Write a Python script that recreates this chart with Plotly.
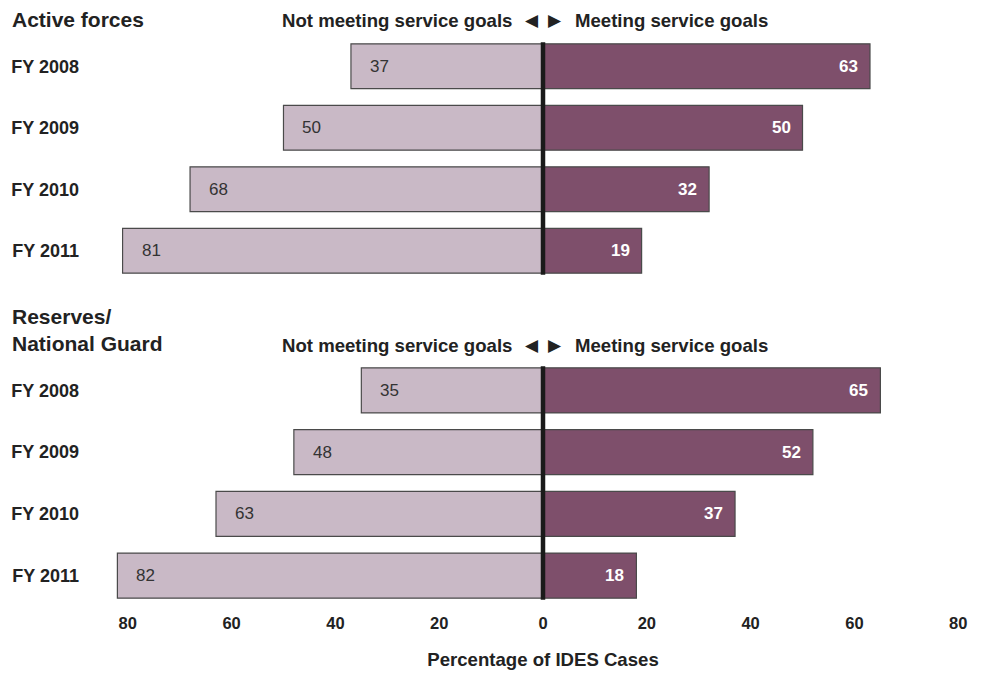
import plotly.graph_objects as go

years = ["FY 2008", "FY 2009", "FY 2010", "FY 2011"]
active_not = [37, 50, 68, 81]
active_meet = [63, 50, 32, 19]
reserve_not = [35, 48, 63, 82]
reserve_meet = [65, 52, 37, 18]
panel_titles = ["<b>Active forces</b>", "<b>Reserves/<br>National Guard</b>"]
tick_vals = [-80, -60, -40, -20, 0, 20, 40, 60, 80]
tick_text = ["80", "60", "40", "20", "0", "20", "40", "60", "80"]

LIGHT = "#c9b9c6"
DARK = "#7e4f6b"
EDGE = "#4a4a4a"
TXT = "#222222"
FONT = "Liberation Sans, Arial, sans-serif"

W, H = 982, 673
OFF = 8  # page body margin offset

def ypaper(px):
    return 1 - (px - OFF) / H

fig = go.Figure()

yaxes_names = ["y", "y2"]
for i, (nm, mt) in enumerate([(active_not, active_meet), (reserve_not, reserve_meet)]):
    ya = yaxes_names[i]
    fig.add_trace(go.Bar(y=years, x=[-v for v in nm], orientation="h",
                         marker=dict(color=LIGHT, line=dict(color=EDGE, width=1.2)),
                         yaxis=ya, xaxis="x", showlegend=False, hoverinfo="skip"))
    fig.add_trace(go.Bar(y=years, x=mt, orientation="h",
                         marker=dict(color=DARK, line=dict(color=EDGE, width=1.2)),
                         yaxis=ya, xaxis="x", showlegend=False, hoverinfo="skip"))
    for yr, v in zip(years, nm):
        fig.add_annotation(x=-v, y=yr, xref="x", yref=ya, text=str(v), showarrow=False,
                           xanchor="left", xshift=17,
                           font=dict(family=FONT, size=17, color="#333333"))
    for yr, v in zip(years, mt):
        fig.add_annotation(x=v, y=yr, xref="x", yref=ya, text="<b>%d</b>" % v, showarrow=False,
                           xanchor="right", xshift=-10,
                           font=dict(family=FONT, size=17, color="white"))
    fig.add_shape(type="line", xref="x", yref=ya, x0=0, x1=0, y0=-0.39, y1=3.39,
                  line=dict(color="#1a1a1a", width=4.5))

top_dom = [ypaper(281.5), ypaper(35.5)]
bot_dom = [ypaper(606.5), ypaper(359.5)]

# x scale: 0 at 543 px, 80 at 958 px -> 5.1875 px/unit; range +-84
XR = 84
ppu = 415 / 80
left_px = 543 - XR * ppu - OFF
right_px = 543 + XR * ppu - OFF
plot_w = right_px - left_px

def xpaper(px):
    return (px - OFF - left_px) / plot_w

yax_common = dict(type="category", categoryorder="array", categoryarray=years, autorange="reversed",
                  showgrid=False, zeroline=False, showline=False, ticks="", ticklabelstandoff=27,
                  tickprefix="<b>", ticksuffix="</b>",
                  tickfont=dict(family=FONT, size=18, color=TXT))
fig.update_layout(
    width=W, height=H,
    margin=dict(l=left_px, r=W - right_px, t=0, b=0, autoexpand=False),
    paper_bgcolor="white", plot_bgcolor="white",
    barmode="relative", bargap=0.27,
    font=dict(family=FONT),
    xaxis=dict(range=[-XR, XR], anchor="y2", tickvals=tick_vals,
               ticktext=["<b>%s</b>" % t for t in tick_text],
               showgrid=False, zeroline=False,
               showline=False, ticks="outside", ticklen=2, tickcolor="rgba(0,0,0,0)",
               tickfont=dict(family=FONT, size=16.5, color=TXT),
               title=dict(text="<b>Percentage of IDES Cases</b>", standoff=21,
                          font=dict(family=FONT, size=18.6, color=TXT))),
    yaxis=dict(domain=top_dom, anchor="x", **yax_common),
    yaxis2=dict(domain=bot_dom, anchor="x", **yax_common),
)

# panel titles
for txt, ypx in zip(panel_titles, [19, 330]):
    fig.add_annotation(x=xpaper(10), y=ypaper(ypx), xref="paper", yref="paper", text=txt,
                       showarrow=False, xanchor="left", yanchor="middle", align="left",
                       font=dict(family=FONT, size=21, color=TXT))

# direction headers
for ypx in [20, 345]:
    fig.add_annotation(x=0, y=ypaper(ypx), xref="x", yref="paper",
                       text="<b>Not meeting service goals</b>",
                       showarrow=False, xanchor="right", xshift=-29, yanchor="middle",
                       font=dict(family=FONT, size=18.6, color=TXT))
    fig.add_annotation(x=0, y=ypaper(ypx), xref="x", yref="paper", text="\u25c0",
                       showarrow=False, xanchor="center", xshift=-11, yanchor="middle",
                       font=dict(family="DejaVu Sans", size=17, color=TXT))
    fig.add_annotation(x=0, y=ypaper(ypx), xref="x", yref="paper", text="\u25b6",
                       showarrow=False, xanchor="center", xshift=12, yanchor="middle",
                       font=dict(family="DejaVu Sans", size=17, color=TXT))
    fig.add_annotation(x=0, y=ypaper(ypx), xref="x", yref="paper",
                       text="<b>Meeting service goals</b>",
                       showarrow=False, xanchor="left", xshift=30, yanchor="middle",
                       font=dict(family=FONT, size=18.6, color=TXT))

fig.write_html("out.html")
